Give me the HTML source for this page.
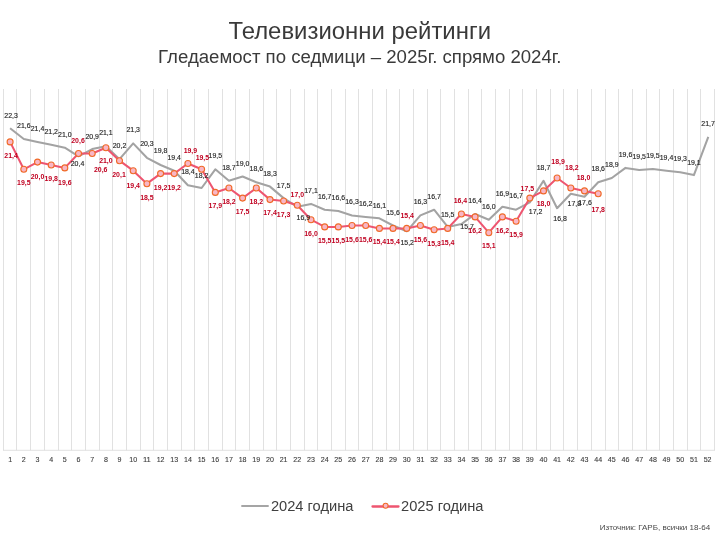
<!DOCTYPE html>
<html><head><meta charset="utf-8"><style>
html,body{margin:0;padding:0;background:#fff;}
body{width:720px;height:540px;overflow:hidden;font-family:"Liberation Sans",sans-serif;}
svg{display:block;will-change:transform;opacity:0.999}
text{font-family:"Liberation Sans",sans-serif;}
.ax{font-size:7.7px;fill:#3a3a3a;stroke:#3a3a3a;stroke-width:0.1px;text-anchor:middle}
.l24{font-size:6.95px;fill:#262626;stroke:#262626;stroke-width:0.15px;text-anchor:middle}
.l25{font-size:6.95px;fill:#C00020;text-anchor:middle;font-weight:bold}
</style></head><body>
<svg width="720" height="540" viewBox="0 0 720 540">
<rect width="720" height="540" fill="#fff"/>
<text x="359.7" y="38.7" font-size="23.92" fill="#3a3a3a" text-anchor="middle">Телевизионни рейтинги</text>
<text x="359.8" y="62.7" font-size="18.62" fill="#3a3a3a" text-anchor="middle">Гледаемост по седмици – 2025г. спрямо 2024г.</text>
<path d="M3.5 89V450.3 M16.5 89V450.3 M30.5 89V450.3 M44.5 89V450.3 M58.5 89V450.3 M71.5 89V450.3 M85.5 89V450.3 M99.5 89V450.3 M112.5 89V450.3 M126.5 89V450.3 M140.5 89V450.3 M153.5 89V450.3 M167.5 89V450.3 M181.5 89V450.3 M194.5 89V450.3 M208.5 89V450.3 M222.5 89V450.3 M235.5 89V450.3 M249.5 89V450.3 M263.5 89V450.3 M276.5 89V450.3 M290.5 89V450.3 M304.5 89V450.3 M317.5 89V450.3 M331.5 89V450.3 M345.5 89V450.3 M358.5 89V450.3 M372.5 89V450.3 M386.5 89V450.3 M399.5 89V450.3 M413.5 89V450.3 M427.5 89V450.3 M440.5 89V450.3 M454.5 89V450.3 M468.5 89V450.3 M481.5 89V450.3 M495.5 89V450.3 M509.5 89V450.3 M522.5 89V450.3 M536.5 89V450.3 M550.5 89V450.3 M563.5 89V450.3 M577.5 89V450.3 M591.5 89V450.3 M605.5 89V450.3 M618.5 89V450.3 M632.5 89V450.3 M646.5 89V450.3 M659.5 89V450.3 M673.5 89V450.3 M687.5 89V450.3 M700.5 89V450.3 M714.5 89V450.3 M3 450.3H715" stroke="#D9D9D9" stroke-width="0.8" fill="none"/>
<text class="ax" x="10.1" y="462.4" textLength="3.95" lengthAdjust="spacingAndGlyphs">1</text><text class="ax" x="23.8" y="462.4" textLength="3.95" lengthAdjust="spacingAndGlyphs">2</text><text class="ax" x="37.5" y="462.4" textLength="3.95" lengthAdjust="spacingAndGlyphs">3</text><text class="ax" x="51.2" y="462.4" textLength="3.95" lengthAdjust="spacingAndGlyphs">4</text><text class="ax" x="64.8" y="462.4" textLength="3.95" lengthAdjust="spacingAndGlyphs">5</text><text class="ax" x="78.5" y="462.4" textLength="3.95" lengthAdjust="spacingAndGlyphs">6</text><text class="ax" x="92.2" y="462.4" textLength="3.95" lengthAdjust="spacingAndGlyphs">7</text><text class="ax" x="105.9" y="462.4" textLength="3.95" lengthAdjust="spacingAndGlyphs">8</text><text class="ax" x="119.5" y="462.4" textLength="3.95" lengthAdjust="spacingAndGlyphs">9</text><text class="ax" x="133.2" y="462.4" textLength="7.9" lengthAdjust="spacingAndGlyphs">10</text><text class="ax" x="146.9" y="462.4" textLength="7.9" lengthAdjust="spacingAndGlyphs">11</text><text class="ax" x="160.6" y="462.4" textLength="7.9" lengthAdjust="spacingAndGlyphs">12</text><text class="ax" x="174.2" y="462.4" textLength="7.9" lengthAdjust="spacingAndGlyphs">13</text><text class="ax" x="187.9" y="462.4" textLength="7.9" lengthAdjust="spacingAndGlyphs">14</text><text class="ax" x="201.6" y="462.4" textLength="7.9" lengthAdjust="spacingAndGlyphs">15</text><text class="ax" x="215.3" y="462.4" textLength="7.9" lengthAdjust="spacingAndGlyphs">16</text><text class="ax" x="228.9" y="462.4" textLength="7.9" lengthAdjust="spacingAndGlyphs">17</text><text class="ax" x="242.6" y="462.4" textLength="7.9" lengthAdjust="spacingAndGlyphs">18</text><text class="ax" x="256.3" y="462.4" textLength="7.9" lengthAdjust="spacingAndGlyphs">19</text><text class="ax" x="270.0" y="462.4" textLength="7.9" lengthAdjust="spacingAndGlyphs">20</text><text class="ax" x="283.6" y="462.4" textLength="7.9" lengthAdjust="spacingAndGlyphs">21</text><text class="ax" x="297.3" y="462.4" textLength="7.9" lengthAdjust="spacingAndGlyphs">22</text><text class="ax" x="311.0" y="462.4" textLength="7.9" lengthAdjust="spacingAndGlyphs">23</text><text class="ax" x="324.7" y="462.4" textLength="7.9" lengthAdjust="spacingAndGlyphs">24</text><text class="ax" x="338.3" y="462.4" textLength="7.9" lengthAdjust="spacingAndGlyphs">25</text><text class="ax" x="352.0" y="462.4" textLength="7.9" lengthAdjust="spacingAndGlyphs">26</text><text class="ax" x="365.7" y="462.4" textLength="7.9" lengthAdjust="spacingAndGlyphs">27</text><text class="ax" x="379.4" y="462.4" textLength="7.9" lengthAdjust="spacingAndGlyphs">28</text><text class="ax" x="393.0" y="462.4" textLength="7.9" lengthAdjust="spacingAndGlyphs">29</text><text class="ax" x="406.7" y="462.4" textLength="7.9" lengthAdjust="spacingAndGlyphs">30</text><text class="ax" x="420.4" y="462.4" textLength="7.9" lengthAdjust="spacingAndGlyphs">31</text><text class="ax" x="434.1" y="462.4" textLength="7.9" lengthAdjust="spacingAndGlyphs">32</text><text class="ax" x="447.7" y="462.4" textLength="7.9" lengthAdjust="spacingAndGlyphs">33</text><text class="ax" x="461.4" y="462.4" textLength="7.9" lengthAdjust="spacingAndGlyphs">34</text><text class="ax" x="475.1" y="462.4" textLength="7.9" lengthAdjust="spacingAndGlyphs">35</text><text class="ax" x="488.8" y="462.4" textLength="7.9" lengthAdjust="spacingAndGlyphs">36</text><text class="ax" x="502.4" y="462.4" textLength="7.9" lengthAdjust="spacingAndGlyphs">37</text><text class="ax" x="516.1" y="462.4" textLength="7.9" lengthAdjust="spacingAndGlyphs">38</text><text class="ax" x="529.8" y="462.4" textLength="7.9" lengthAdjust="spacingAndGlyphs">39</text><text class="ax" x="543.5" y="462.4" textLength="7.9" lengthAdjust="spacingAndGlyphs">40</text><text class="ax" x="557.1" y="462.4" textLength="7.9" lengthAdjust="spacingAndGlyphs">41</text><text class="ax" x="570.8" y="462.4" textLength="7.9" lengthAdjust="spacingAndGlyphs">42</text><text class="ax" x="584.5" y="462.4" textLength="7.9" lengthAdjust="spacingAndGlyphs">43</text><text class="ax" x="598.2" y="462.4" textLength="7.9" lengthAdjust="spacingAndGlyphs">44</text><text class="ax" x="611.8" y="462.4" textLength="7.9" lengthAdjust="spacingAndGlyphs">45</text><text class="ax" x="625.5" y="462.4" textLength="7.9" lengthAdjust="spacingAndGlyphs">46</text><text class="ax" x="639.2" y="462.4" textLength="7.9" lengthAdjust="spacingAndGlyphs">47</text><text class="ax" x="652.9" y="462.4" textLength="7.9" lengthAdjust="spacingAndGlyphs">48</text><text class="ax" x="666.5" y="462.4" textLength="7.9" lengthAdjust="spacingAndGlyphs">49</text><text class="ax" x="680.2" y="462.4" textLength="7.9" lengthAdjust="spacingAndGlyphs">50</text><text class="ax" x="693.9" y="462.4" textLength="7.9" lengthAdjust="spacingAndGlyphs">51</text><text class="ax" x="707.6" y="462.4" textLength="7.9" lengthAdjust="spacingAndGlyphs">52</text>
<polyline points="10.1,128.3 23.8,139.0 37.5,141.9 51.2,144.8 64.8,147.7 78.5,156.3 92.2,149.1 105.9,146.2 119.5,159.2 133.2,143.4 146.9,157.8 160.6,165.0 174.2,170.7 187.9,185.2 201.6,188.0 215.3,169.3 228.9,180.8 242.6,176.5 256.3,182.3 270.0,186.6 283.6,198.1 297.3,206.8 311.0,203.9 324.7,209.7 338.3,211.1 352.0,215.4 365.7,216.9 379.4,218.3 393.0,225.5 406.7,231.3 420.4,215.4 434.1,209.7 447.7,226.9 461.4,224.1 475.1,214.0 488.8,219.7 502.4,206.8 516.1,209.7 529.8,202.4 543.5,180.8 557.1,208.2 570.8,193.8 584.5,196.7 598.2,182.3 611.8,178.0 625.5,167.9 639.2,169.9 652.9,169.0 666.5,170.7 680.2,172.2 693.9,175.1 708.3,136.8" fill="none" stroke="#A3A3A3" stroke-width="2.05" stroke-linejoin="round" stroke-linecap="butt"/>
<polyline points="10.1,141.9 23.8,169.3 37.5,162.1 51.2,165.0 64.8,167.9 78.5,153.5 92.2,153.5 105.9,147.7 119.5,160.7 133.2,170.7 146.9,183.7 160.6,173.6 174.2,173.6 187.9,163.5 201.6,169.3 215.3,192.4 228.9,188.0 242.6,198.1 256.3,188.0 270.0,199.6 283.6,201.0 297.3,205.3 311.0,219.7 324.7,226.9 338.3,226.9 352.0,225.5 365.7,225.5 379.4,228.4 393.0,228.4 406.7,228.4 420.4,225.5 434.1,229.8 447.7,228.4 461.4,214.0 475.1,216.9 488.8,232.7 502.4,216.9 516.1,221.2 529.8,198.1 543.5,190.9 557.1,178.0 570.8,188.0 584.5,190.9 598.2,193.8" fill="none" stroke="#EE5570" stroke-width="2.05" stroke-linejoin="round" stroke-linecap="round"/>
<circle cx="10.1" cy="141.9" r="3.0" fill="#F8B6C6" stroke="#F06A28" stroke-width="1.1"/><circle cx="23.8" cy="169.3" r="3.0" fill="#F8B6C6" stroke="#F06A28" stroke-width="1.1"/><circle cx="37.5" cy="162.1" r="3.0" fill="#F8B6C6" stroke="#F06A28" stroke-width="1.1"/><circle cx="51.2" cy="165.0" r="3.0" fill="#F8B6C6" stroke="#F06A28" stroke-width="1.1"/><circle cx="64.8" cy="167.9" r="3.0" fill="#F8B6C6" stroke="#F06A28" stroke-width="1.1"/><circle cx="78.5" cy="153.5" r="3.0" fill="#F8B6C6" stroke="#F06A28" stroke-width="1.1"/><circle cx="92.2" cy="153.5" r="3.0" fill="#F8B6C6" stroke="#F06A28" stroke-width="1.1"/><circle cx="105.9" cy="147.7" r="3.0" fill="#F8B6C6" stroke="#F06A28" stroke-width="1.1"/><circle cx="119.5" cy="160.7" r="3.0" fill="#F8B6C6" stroke="#F06A28" stroke-width="1.1"/><circle cx="133.2" cy="170.7" r="3.0" fill="#F8B6C6" stroke="#F06A28" stroke-width="1.1"/><circle cx="146.9" cy="183.7" r="3.0" fill="#F8B6C6" stroke="#F06A28" stroke-width="1.1"/><circle cx="160.6" cy="173.6" r="3.0" fill="#F8B6C6" stroke="#F06A28" stroke-width="1.1"/><circle cx="174.2" cy="173.6" r="3.0" fill="#F8B6C6" stroke="#F06A28" stroke-width="1.1"/><circle cx="187.9" cy="163.5" r="3.0" fill="#F8B6C6" stroke="#F06A28" stroke-width="1.1"/><circle cx="201.6" cy="169.3" r="3.0" fill="#F8B6C6" stroke="#F06A28" stroke-width="1.1"/><circle cx="215.3" cy="192.4" r="3.0" fill="#F8B6C6" stroke="#F06A28" stroke-width="1.1"/><circle cx="228.9" cy="188.0" r="3.0" fill="#F8B6C6" stroke="#F06A28" stroke-width="1.1"/><circle cx="242.6" cy="198.1" r="3.0" fill="#F8B6C6" stroke="#F06A28" stroke-width="1.1"/><circle cx="256.3" cy="188.0" r="3.0" fill="#F8B6C6" stroke="#F06A28" stroke-width="1.1"/><circle cx="270.0" cy="199.6" r="3.0" fill="#F8B6C6" stroke="#F06A28" stroke-width="1.1"/><circle cx="283.6" cy="201.0" r="3.0" fill="#F8B6C6" stroke="#F06A28" stroke-width="1.1"/><circle cx="297.3" cy="205.3" r="3.0" fill="#F8B6C6" stroke="#F06A28" stroke-width="1.1"/><circle cx="311.0" cy="219.7" r="3.0" fill="#F8B6C6" stroke="#F06A28" stroke-width="1.1"/><circle cx="324.7" cy="226.9" r="3.0" fill="#F8B6C6" stroke="#F06A28" stroke-width="1.1"/><circle cx="338.3" cy="226.9" r="3.0" fill="#F8B6C6" stroke="#F06A28" stroke-width="1.1"/><circle cx="352.0" cy="225.5" r="3.0" fill="#F8B6C6" stroke="#F06A28" stroke-width="1.1"/><circle cx="365.7" cy="225.5" r="3.0" fill="#F8B6C6" stroke="#F06A28" stroke-width="1.1"/><circle cx="379.4" cy="228.4" r="3.0" fill="#F8B6C6" stroke="#F06A28" stroke-width="1.1"/><circle cx="393.0" cy="228.4" r="3.0" fill="#F8B6C6" stroke="#F06A28" stroke-width="1.1"/><circle cx="406.7" cy="228.4" r="3.0" fill="#F8B6C6" stroke="#F06A28" stroke-width="1.1"/><circle cx="420.4" cy="225.5" r="3.0" fill="#F8B6C6" stroke="#F06A28" stroke-width="1.1"/><circle cx="434.1" cy="229.8" r="3.0" fill="#F8B6C6" stroke="#F06A28" stroke-width="1.1"/><circle cx="447.7" cy="228.4" r="3.0" fill="#F8B6C6" stroke="#F06A28" stroke-width="1.1"/><circle cx="461.4" cy="214.0" r="3.0" fill="#F8B6C6" stroke="#F06A28" stroke-width="1.1"/><circle cx="475.1" cy="216.9" r="3.0" fill="#F8B6C6" stroke="#F06A28" stroke-width="1.1"/><circle cx="488.8" cy="232.7" r="3.0" fill="#F8B6C6" stroke="#F06A28" stroke-width="1.1"/><circle cx="502.4" cy="216.9" r="3.0" fill="#F8B6C6" stroke="#F06A28" stroke-width="1.1"/><circle cx="516.1" cy="221.2" r="3.0" fill="#F8B6C6" stroke="#F06A28" stroke-width="1.1"/><circle cx="529.8" cy="198.1" r="3.0" fill="#F8B6C6" stroke="#F06A28" stroke-width="1.1"/><circle cx="543.5" cy="190.9" r="3.0" fill="#F8B6C6" stroke="#F06A28" stroke-width="1.1"/><circle cx="557.1" cy="178.0" r="3.0" fill="#F8B6C6" stroke="#F06A28" stroke-width="1.1"/><circle cx="570.8" cy="188.0" r="3.0" fill="#F8B6C6" stroke="#F06A28" stroke-width="1.1"/><circle cx="584.5" cy="190.9" r="3.0" fill="#F8B6C6" stroke="#F06A28" stroke-width="1.1"/><circle cx="598.2" cy="193.8" r="3.0" fill="#F8B6C6" stroke="#F06A28" stroke-width="1.1"/>
<text class="l24" x="11.1" y="118.2">22,3</text><text class="l24" x="23.8" y="128.2">21,6</text><text class="l24" x="37.5" y="131.1">21,4</text><text class="l24" x="51.2" y="134.0">21,2</text><text class="l24" x="64.8" y="136.9">21,0</text><text class="l24" x="77.5" y="166.3">20,4</text><text class="l24" x="92.2" y="139.3">20,9</text><text class="l24" x="105.9" y="135.4">21,1</text><text class="l24" x="119.5" y="148.4">20,2</text><text class="l24" x="133.2" y="131.6">21,3</text><text class="l24" x="146.9" y="146.2">20,3</text><text class="l24" x="160.6" y="153.2">19,8</text><text class="l24" x="174.2" y="159.9">19,4</text><text class="l24" x="187.9" y="174.4">18,4</text><text class="l24" x="201.6" y="178.2">18,2</text><text class="l24" x="215.3" y="157.5">19,5</text><text class="l24" x="228.9" y="170.0">18,7</text><text class="l24" x="242.6" y="165.7">19,0</text><text class="l24" x="256.3" y="171.0">18,6</text><text class="l24" x="270.0" y="175.8">18,3</text><text class="l24" x="283.6" y="187.8">17,5</text><text class="l24" x="303.3" y="220.2">16,9</text><text class="l24" x="311.0" y="193.1">17,1</text><text class="l24" x="324.7" y="198.9">16,7</text><text class="l24" x="338.3" y="200.3">16,6</text><text class="l24" x="352.0" y="203.7">16,3</text><text class="l24" x="365.7" y="206.1">16,2</text><text class="l24" x="379.4" y="207.5">16,1</text><text class="l24" x="393.0" y="214.7">15,6</text><text class="l24" x="407.2" y="245.1">15,2</text><text class="l24" x="420.4" y="203.6">16,3</text><text class="l24" x="434.1" y="198.9">16,7</text><text class="l24" x="447.7" y="216.6">15,5</text><text class="l24" x="467.1" y="228.8">15,7</text><text class="l24" x="475.1" y="203.2">16,4</text><text class="l24" x="488.8" y="208.9">16,0</text><text class="l24" x="502.4" y="196.0">16,9</text><text class="l24" x="516.1" y="197.9">16,7</text><text class="l24" x="535.6" y="214.4">17,2</text><text class="l24" x="543.5" y="170.0">18,7</text><text class="l24" x="560.1" y="220.5">16,8</text><text class="l24" x="574.3" y="205.7">17,8</text><text class="l24" x="585.0" y="205.0">17,6</text><text class="l24" x="598.2" y="170.8">18,6</text><text class="l24" x="611.8" y="167.2">18,9</text><text class="l24" x="625.5" y="157.1">19,6</text><text class="l24" x="639.2" y="159.1">19,5</text><text class="l24" x="652.9" y="157.5">19,5</text><text class="l24" x="666.5" y="159.9">19,4</text><text class="l24" x="680.2" y="161.4">19,3</text><text class="l24" x="693.9" y="165.3">19,1</text><text class="l24" x="708.1" y="125.8">21,7</text>
<text class="l25" x="11.1" y="157.6">21,4</text><text class="l25" x="23.8" y="185.0">19,5</text><text class="l25" x="37.5" y="178.8">20,0</text><text class="l25" x="51.2" y="180.7">19,8</text><text class="l25" x="64.8" y="184.6">19,6</text><text class="l25" x="78.0" y="142.5">20,6</text><text class="l25" x="100.7" y="171.6">20,6</text><text class="l25" x="105.9" y="163.4">21,0</text><text class="l25" x="119.0" y="176.9">20,1</text><text class="l25" x="133.2" y="187.9">19,4</text><text class="l25" x="146.9" y="200.4">18,5</text><text class="l25" x="160.6" y="190.3">19,2</text><text class="l25" x="174.2" y="190.3">19,2</text><text class="l25" x="190.4" y="153.0">19,9</text><text class="l25" x="202.4" y="159.8">19,5</text><text class="l25" x="215.3" y="208.1">17,9</text><text class="l25" x="228.9" y="203.7">18,2</text><text class="l25" x="242.6" y="213.8">17,5</text><text class="l25" x="256.3" y="203.7">18,2</text><text class="l25" x="270.0" y="215.3">17,4</text><text class="l25" x="283.6" y="216.7">17,3</text><text class="l25" x="297.3" y="196.6">17,0</text><text class="l25" x="311.0" y="236.4">16,0</text><text class="l25" x="324.7" y="242.6">15,5</text><text class="l25" x="338.3" y="242.6">15,5</text><text class="l25" x="352.0" y="241.7">15,6</text><text class="l25" x="365.7" y="241.7">15,6</text><text class="l25" x="379.4" y="244.1">15,4</text><text class="l25" x="393.0" y="244.1">15,4</text><text class="l25" x="407.2" y="218.1">15,4</text><text class="l25" x="420.4" y="242.2">15,6</text><text class="l25" x="434.1" y="245.5">15,3</text><text class="l25" x="447.7" y="244.6">15,4</text><text class="l25" x="460.4" y="202.5">16,4</text><text class="l25" x="475.1" y="232.6">16,2</text><text class="l25" x="488.8" y="248.4">15,1</text><text class="l25" x="502.4" y="232.6">16,2</text><text class="l25" x="516.1" y="236.9">15,9</text><text class="l25" x="527.3" y="190.6">17,5</text><text class="l25" x="543.5" y="205.6">18,0</text><text class="l25" x="558.1" y="163.7">18,9</text><text class="l25" x="571.8" y="169.5">18,2</text><text class="l25" x="583.5" y="180.3">18,0</text><text class="l25" x="598.2" y="211.8">17,8</text>
<path d="M241.3 506H268.7" stroke="#A5A5A5" stroke-width="2"/><text x="270.9" y="511.0" font-size="14.67" fill="#404040">2024 година</text><path d="M372.5 506.5H398.5" stroke="#EE5570" stroke-width="2.3" stroke-linecap="round"/><circle cx="385.6" cy="505.8" r="2.5" fill="#F8B6C6" stroke="#F06A28" stroke-width="1.1"/><text x="401.0" y="511.0" font-size="14.67" fill="#404040">2025 година</text>
<text x="710.2" y="529.7" font-size="8.05" fill="#484848" text-anchor="end">Източник: ГАРБ, всички 18-64</text>
</svg></body></html>
